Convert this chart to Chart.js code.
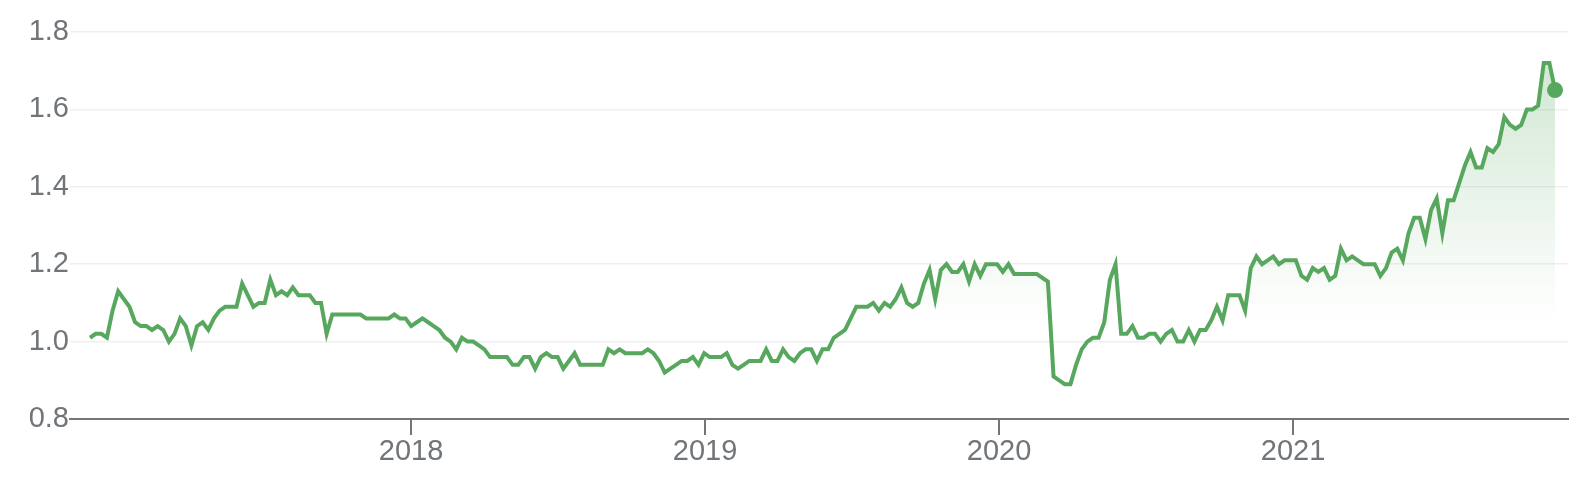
<!DOCTYPE html>
<html>
<head>
<meta charset="utf-8">
<script src="https://cdn.jsdelivr.net/npm/chart.js@4.4.1/dist/chart.umd.min.js"></script>
<style>
  html, body { margin: 0; padding: 0; background: #fff; }
</style>
</head>
<body>
<canvas id="chart" width="1592" height="490"></canvas>
<script>
// year ticks along the bottom, value ticks up the side
const yearTicks = [2018, 2019, 2020, 2021];
const valueTicks = [0.8, 1.0, 1.2, 1.4, 1.6, 1.8];

// weekly closes, first week ~ end of Nov 2016
const firstWeek = 2016.908;
const weeklyValues = [
  1.01, 1.02, 1.02, 1.01, 1.08, 1.13, 1.11, 1.09, 1.05, 1.04,
  1.04, 1.03, 1.04, 1.03, 1.00, 1.02, 1.06, 1.04, 0.99, 1.04,
  1.05, 1.03, 1.06, 1.08, 1.09, 1.09, 1.09, 1.15, 1.12, 1.09,
  1.10, 1.10, 1.16, 1.12, 1.13, 1.12, 1.14, 1.12, 1.12, 1.12,
  1.10, 1.10, 1.02, 1.07, 1.07, 1.07, 1.07, 1.07, 1.07, 1.06,
  1.06, 1.06, 1.06, 1.06, 1.07, 1.06, 1.06, 1.04, 1.05, 1.06,
  1.05, 1.04, 1.03, 1.01, 1.00, 0.98, 1.01, 1.00, 1.00, 0.99,
  0.98, 0.96, 0.96, 0.96, 0.96, 0.94, 0.94, 0.96, 0.96, 0.93,
  0.96, 0.97, 0.96, 0.96, 0.93, 0.95, 0.97, 0.94, 0.94, 0.94,
  0.94, 0.94, 0.98, 0.97, 0.98, 0.97, 0.97, 0.97, 0.97, 0.98,
  0.97, 0.95, 0.92, 0.93, 0.94, 0.95, 0.95, 0.96, 0.94, 0.97,
  0.96, 0.96, 0.96, 0.97, 0.94, 0.93, 0.94, 0.95, 0.95, 0.95,
  0.98, 0.95, 0.95, 0.98, 0.96, 0.95, 0.97, 0.98, 0.98, 0.95,
  0.98, 0.98, 1.01, 1.02, 1.03, 1.06, 1.09, 1.09, 1.09, 1.10,
  1.08, 1.10, 1.09, 1.11, 1.14, 1.10, 1.09, 1.10, 1.15, 1.185,
  1.11, 1.185, 1.20, 1.18, 1.18, 1.20, 1.155, 1.20, 1.17, 1.20,
  1.20, 1.20, 1.18, 1.20, 1.175, 1.175, 1.175, 1.175, 1.175, 1.165,
  1.155, 0.91, 0.90, 0.89, 0.89, 0.94, 0.98, 1.00, 1.01, 1.01,
  1.05, 1.16, 1.20, 1.02, 1.02, 1.04, 1.01, 1.01, 1.02, 1.02,
  1.00, 1.02, 1.03, 1.00, 1.00, 1.03, 1.00, 1.03, 1.03, 1.055,
  1.09, 1.055, 1.12, 1.12, 1.12, 1.08, 1.19, 1.22, 1.20, 1.21,
  1.22, 1.20, 1.21, 1.21, 1.21, 1.17, 1.16, 1.19, 1.18, 1.19,
  1.16, 1.17, 1.24, 1.21, 1.22, 1.21, 1.20, 1.20, 1.20, 1.17,
  1.19, 1.23, 1.24, 1.21, 1.28, 1.32, 1.32, 1.265, 1.34, 1.37,
  1.28, 1.365, 1.365, 1.41, 1.455, 1.49, 1.45, 1.45, 1.50, 1.49,
  1.51, 1.58, 1.56, 1.55, 1.56, 1.60, 1.60, 1.61, 1.72, 1.72,
  1.65
];

const green = "#57a85e";
const greyText = "#70757a";
const lastIdx = weeklyValues.length - 1;

const points = weeklyValues.map((v, i) => ({ x: firstWeek + i * 7 / 365.25, y: v }));

// vertical fade under the line, strongest near the top of the chart
function fillGradient(ctx) {
  const chart = ctx.chart;
  if (!chart.chartArea) return "rgba(87,168,94,0)";
  const y = chart.scales.y;
  const g = chart.ctx.createLinearGradient(0, y.getPixelForValue(1.8), 0, y.getPixelForValue(1.05));
  g.addColorStop(0, "rgba(87,168,94,0.30)");
  g.addColorStop(1, "rgba(87,168,94,0)");
  return g;
}

new Chart(document.getElementById("chart"), {
  type: "line",
  data: {
    datasets: [{
      data: points,
      borderColor: green,
      borderWidth: 4,
      tension: 0,
      fill: "start",
      backgroundColor: fillGradient,
      pointRadius: ctx => ctx.dataIndex === lastIdx ? 8 : 0,
      pointBackgroundColor: green,
      pointBorderWidth: 0,
      pointHoverRadius: 0
    }]
  },
  options: {
    responsive: false,
    devicePixelRatio: 1,
    animation: false,
    layout: { padding: { top: 32, right: 24, left: 0, bottom: 0 } },
    plugins: { legend: { display: false }, tooltip: { enabled: false } },
    scales: {
      x: {
        type: "linear",
        min: 2016.84,
        max: 2021.935,
        afterBuildTicks: scale => { scale.ticks = yearTicks.map(v => ({ value: v })); },
        afterFit: scale => { scale.height = 71; },
        grid: { drawOnChartArea: false, drawTicks: true, tickLength: 16, color: "#757575", lineWidth: 2 },
        border: { display: true, color: "#757575", width: 2 },
        ticks: {
          autoSkip: false,
          maxRotation: 0,
          padding: 0,
          color: greyText,
          font: { family: "'Liberation Sans', Arial, sans-serif", size: 29 },
          callback: v => String(v)
        }
      },
      y: {
        min: 0.8,
        max: 1.8,
        afterBuildTicks: scale => { scale.ticks = valueTicks.map(v => ({ value: v })); },
        afterFit: scale => { scale.width = 70; },
        grid: { drawTicks: false, color: "#efefef", lineWidth: 1.5 },
        border: { display: false },
        ticks: {
          padding: 1,
          color: greyText,
          font: { family: "'Liberation Sans', Arial, sans-serif", size: 29 },
          callback: v => v.toFixed(1)
        }
      }
    }
  }
});
</script>
</body>
</html>
